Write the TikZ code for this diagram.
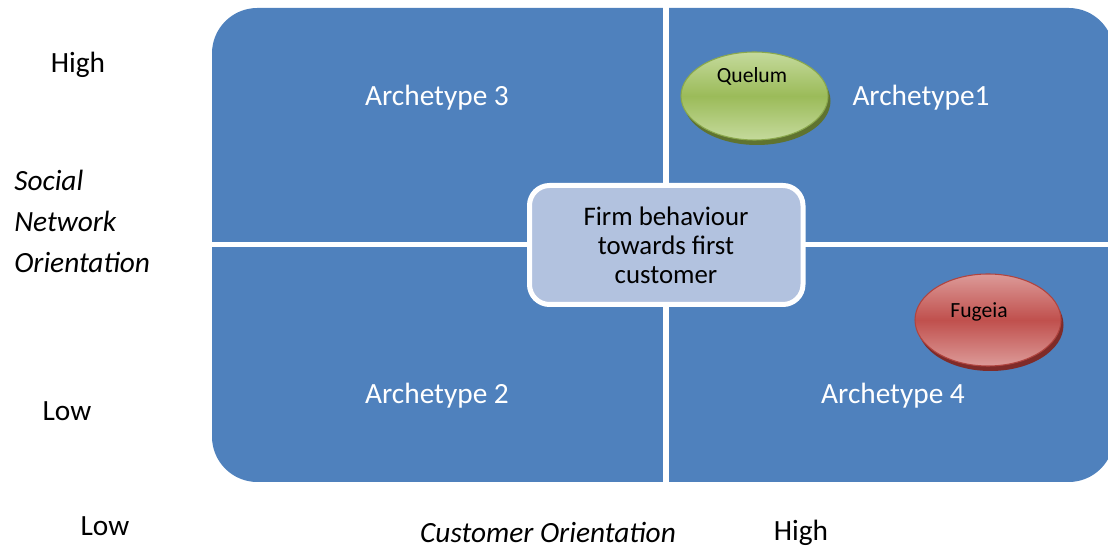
\documentclass[tikz,border=0pt]{standalone}
\usepackage{fontspec}
\setmainfont{Carlito}
\usetikzlibrary{shapes.geometric}
\definecolor{quadblue}{HTML}{4F81BD}
\definecolor{centerfill}{HTML}{B2C2DF}
\definecolor{grnmid}{HTML}{9BBB59}
\definecolor{grnlight}{HTML}{C5DA9C}
\definecolor{grnedge}{HTML}{8AA84C}
\definecolor{grnshadow}{HTML}{5F7330}
\definecolor{redmid}{HTML}{C0504D}
\definecolor{redlight}{HTML}{DC9A98}
\definecolor{rededge}{HTML}{B0443F}
\definecolor{redshadow}{HTML}{7F2B29}
\tikzset{
  quadlabel/.style={text=white, font=\fontsize{22}{26}\selectfont, inner sep=0pt},
  axislabel/.style={text=black, font=\fontsize{22}{26}\selectfont, inner sep=0pt},
  centerbox/.style={draw=white, line width=3.75pt, fill=centerfill, rounded corners=15pt,
     minimum width=273.5*0.75pt, minimum height=119*0.75pt, inner sep=0pt},
  firmblob/.style={ellipse, inner sep=0pt, line width=0.8pt},
  firmtext/.style={text=black, font=\fontsize{16.2}{19}\selectfont, inner sep=0pt},
}
\begin{document}
\begin{tikzpicture}[x=0.75pt, y=-0.75pt]
\useasboundingbox (0,0) rectangle (1108,548);
% quadrant field
\begin{scope}
\clip (0,0) rectangle (1108,548);
\fill[quadblue, rounded corners=34pt] (212,8) rectangle (1114,482);
\end{scope}
% separators
\fill[white] (663,6) rectangle (669,484);
\fill[white] (210,242) rectangle (1110,247);
% quadrant labels
\node[quadlabel] (a3) at (437,98) {Archetype 3};
\node[quadlabel] (a1) at (921,98) {Archetype1};
\node[quadlabel] (a2) at (437,396) {Archetype 2};
\node[quadlabel] (a4) at (893,396) {Archetype 4};
% center box
\node[centerbox] (cb) at (666.25,245) {};
\node[text=black, font=\fontsize{20.1}{21.75}\selectfont, align=center, inner sep=0pt] (cbt) at (666,245.5)
  {Firm behaviour\\towards first\\customer};
% Quelum
\fill[grnshadow] (757,101) ellipse [x radius=73.5, y radius=44];
\node[firmblob, draw=grnedge, top color=grnlight, bottom color=grnlight, middle color=grnmid,
  minimum width=147*0.75pt, minimum height=88*0.75pt] (quelum) at (754.5,96) {};
\node[firmtext] (qt) at (752,76.5) {Quelum};
% Fugeia
\fill[redshadow] (990.5,325) ellipse [x radius=73, y radius=46];
\node[firmblob, draw=rededge, top color=redlight, bottom color=redlight, middle color=redmid,
  minimum width=146*0.75pt, minimum height=92*0.75pt] (fugeia) at (988,320) {};
\node[firmtext] (ft) at (979,311.5) {Fugeia};
% axis labels
\node[axislabel] (yhigh) at (78,65) {High};
\node[axislabel, anchor=west, align=left, font=\fontsize{22}{30.75}\selectfont\itshape] (ytitle) at (14,221)
  {Social\\Network\\Orientation};
\node[axislabel] (ylow) at (67,411) {Low};
\node[axislabel] (xlow) at (105,526) {Low};
\node[axislabel, font=\fontsize{22}{26}\selectfont\itshape] (xtitle) at (548,532) {Customer Orientation};
\node[axislabel] (xhigh) at (801,533) {High};
\end{tikzpicture}
\end{document}
